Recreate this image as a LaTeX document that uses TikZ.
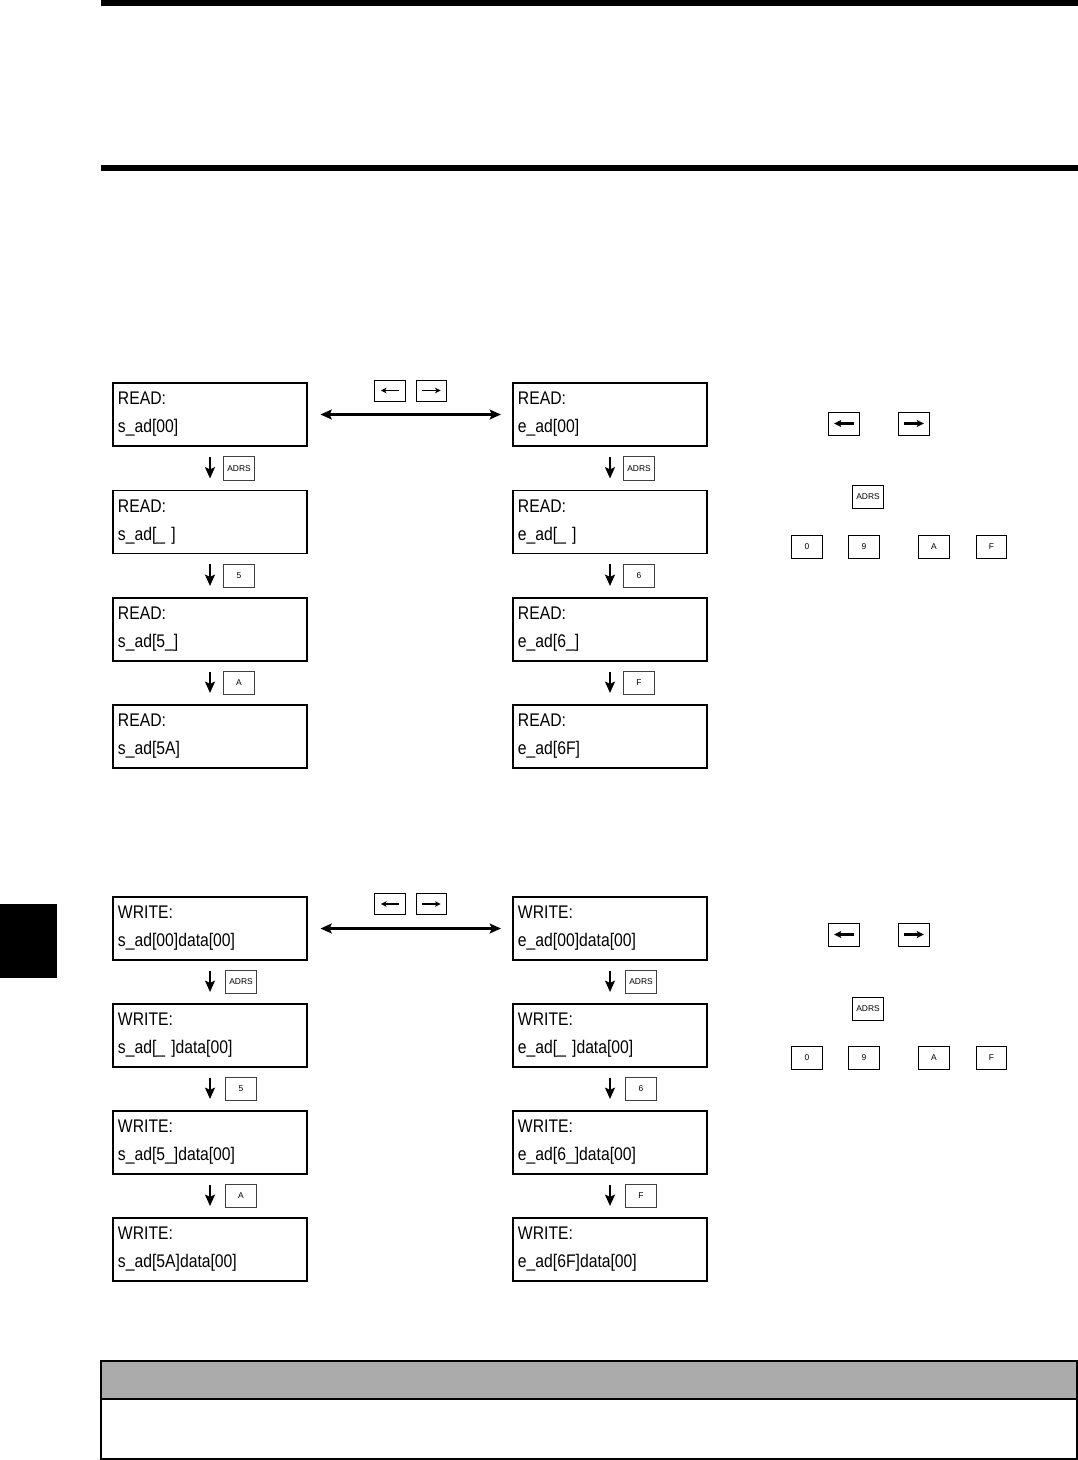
\documentclass[tikz,border=0pt]{standalone}
\usepackage{fontspec}
\setmainfont{Liberation Sans}
\newfontfamily\lcdfont[FakeStretch=0.86]{Liberation Sans}
\usepackage{xcolor}
\usetikzlibrary{positioning,arrows.meta,calc}
\definecolor{headgray}{HTML}{ABABAB}

\begin{document}
\begin{tikzpicture}[
    x=0.025cm, y=-0.025cm,
    lcd/.style={
        draw=black,
        line width=1.1pt,
        minimum width=4.85cm,
        minimum height=1.575cm,
        text width=4.6cm,
        inner xsep=0.125cm,
        inner ysep=0pt,
        align=left,
        font=\lcdfont\fontsize{13}{20}\selectfont
    },
    key/.style={
        draw=black!75,
        line width=0.5pt,
        minimum width=0.76cm,
        minimum height=0.58cm,
        inner sep=0pt,
        font=\fontsize{6}{7}\selectfont
    },
    down/.style={-{Stealth[length=8pt,width=7pt,inset=1.5pt]}, line width=1.5pt},
    swap/.style={{Stealth[length=8pt,width=7pt,inset=1.5pt]}-{Stealth[length=8pt,width=7pt,inset=1.5pt]}, line width=1.5pt},
    keyarr/.style={-{Stealth[length=4pt,width=4pt,inset=1pt]}, line width=1pt},
    bigkeyarr/.style={-{Stealth[length=5pt,width=5pt,inset=1pt]}, line width=1.5pt}
]
\useasboundingbox (0,0) rectangle (1078,1460);

% page rules and tab
\fill (101,0) rectangle (1078,6);
\fill (101,165) rectangle (1078,171);
\fill (0,904) rectangle (57,978);

% ---------------- READ ----------------
\node[lcd] (rs1) at (210,414.5) {READ:\\s\_ad[00]};
\node[lcd] (rs2) at (210,522)   {READ:\\s\_ad[\_ ]};
\node[lcd] (rs3) at (210,629.5) {READ:\\s\_ad[5\_]};
\node[lcd] (rs4) at (210,736.5) {READ:\\s\_ad[5A]};

\node[lcd] (re1) at (610,414.5) {READ:\\e\_ad[00]};
\node[lcd] (re2) at (610,522)   {READ:\\e\_ad[\_ ]};
\node[lcd] (re3) at (610,629.5) {READ:\\e\_ad[6\_]};
\node[lcd] (re4) at (610,736.5) {READ:\\e\_ad[6F]};

\draw[down] ([yshift=-7pt]rs1.south) -- ([yshift=8pt]rs2.north);
\draw[down] ([yshift=-7pt]rs2.south) -- ([yshift=8pt]rs3.north);
\draw[down] ([yshift=-7pt]rs3.south) -- ([yshift=8pt]rs4.north);
\draw[down] ([yshift=-7pt]re1.south) -- ([yshift=8pt]re2.north);
\draw[down] ([yshift=-7pt]re2.south) -- ([yshift=8pt]re3.north);
\draw[down] ([yshift=-7pt]re3.south) -- ([yshift=8pt]re4.north);

\node[key] (krs1) at ($(rs1.south)!0.5!(rs2.north)+(29,0)$) {ADRS};
\node[key] (krs2) at ($(rs2.south)!0.5!(rs3.north)+(29,0)$) {5};
\node[key] (krs3) at ($(rs3.south)!0.5!(rs4.north)+(29,0)$) {A};
\node[key] (kre1) at ($(re1.south)!0.5!(re2.north)+(29,0)$) {ADRS};
\node[key] (kre2) at ($(re2.south)!0.5!(re3.north)+(29,0)$) {6};
\node[key] (kre3) at ($(re3.south)!0.5!(re4.north)+(29,0)$) {F};

\draw[swap] ([xshift=9pt]rs1.east) -- ([xshift=-8pt]re1.west);
\node[key, draw=black, minimum height=0.53cm] (rleft)  at (390,390.5) {};
\node[key, draw=black, minimum height=0.53cm] (rright) at (431.5,390.5) {};
\draw[keyarr] ([xshift=6.5pt]rleft.center) -- ([xshift=-6.5pt]rleft.center);
\draw[keyarr] ([xshift=-6.5pt]rright.center) -- ([xshift=6.5pt]rright.center);

% keys on the right
\node[key, draw=black] (rkl) at (844,423.5) {};
\node[key, draw=black] (rkr) at (914,423.5) {};
\draw[bigkeyarr] ([xshift=7pt]rkl.center) -- ([xshift=-7pt]rkl.center);
\draw[bigkeyarr] ([xshift=-7pt]rkr.center) -- ([xshift=7pt]rkr.center);
\node[key, draw=black] (rka) at (868,496.5) {ADRS};
\node[key, draw=black] (rk0) at (807,547) {0};
\node[key, draw=black] (rk9) at (864,547) {9};
\node[key, draw=black] (rkA) at (934,547) {A};
\node[key, draw=black] (rkF) at (991.5,547) {F};

% ---------------- WRITE ----------------
\node[lcd] (ws1) at (210,928.5)  {WRITE:\\s\_ad[00]data[00]};
\node[lcd] (ws2) at (210,1035.5) {WRITE:\\s\_ad[\_ ]data[00]};
\node[lcd] (ws3) at (210,1142.5) {WRITE:\\s\_ad[5\_]data[00]};
\node[lcd] (ws4) at (210,1249.5) {WRITE:\\s\_ad[5A]data[00]};

\node[lcd] (we1) at (610,928.5)  {WRITE:\\e\_ad[00]data[00]};
\node[lcd] (we2) at (610,1035.5) {WRITE:\\e\_ad[\_ ]data[00]};
\node[lcd] (we3) at (610,1142.5) {WRITE:\\e\_ad[6\_]data[00]};
\node[lcd] (we4) at (610,1249.5) {WRITE:\\e\_ad[6F]data[00]};

\draw[down] ([yshift=-7pt]ws1.south) -- ([yshift=8pt]ws2.north);
\draw[down] ([yshift=-7pt]ws2.south) -- ([yshift=8pt]ws3.north);
\draw[down] ([yshift=-7pt]ws3.south) -- ([yshift=8pt]ws4.north);
\draw[down] ([yshift=-7pt]we1.south) -- ([yshift=8pt]we2.north);
\draw[down] ([yshift=-7pt]we2.south) -- ([yshift=8pt]we3.north);
\draw[down] ([yshift=-7pt]we3.south) -- ([yshift=8pt]we4.north);

\node[key] (kws1) at ($(ws1.south)!0.5!(ws2.north)+(31,0)$) {ADRS};
\node[key] (kws2) at ($(ws2.south)!0.5!(ws3.north)+(31,0)$) {5};
\node[key] (kws3) at ($(ws3.south)!0.5!(ws4.north)+(31,0)$) {A};
\node[key] (kwe1) at ($(we1.south)!0.5!(we2.north)+(31,0)$) {ADRS};
\node[key] (kwe2) at ($(we2.south)!0.5!(we3.north)+(31,0)$) {6};
\node[key] (kwe3) at ($(we3.south)!0.5!(we4.north)+(31,0)$) {F};

\draw[swap] ([xshift=9pt]ws1.east) -- ([xshift=-8pt]we1.west);
\node[key, draw=black, minimum height=0.53cm] (wleft)  at (390,904) {};
\node[key, draw=black, minimum height=0.53cm] (wright) at (431.5,904) {};
\draw[keyarr] ([xshift=6.5pt]wleft.center) -- ([xshift=-6.5pt]wleft.center);
\draw[keyarr] ([xshift=-6.5pt]wright.center) -- ([xshift=6.5pt]wright.center);

% keys on the right
\node[key, draw=black] (wkl) at (844,934.5) {};
\node[key, draw=black] (wkr) at (914,934.5) {};
\draw[bigkeyarr] ([xshift=7pt]wkl.center) -- ([xshift=-7pt]wkl.center);
\draw[bigkeyarr] ([xshift=-7pt]wkr.center) -- ([xshift=7pt]wkr.center);
\node[key, draw=black] (wka) at (868,1008.5) {ADRS};
\node[key, draw=black] (wk0) at (807,1058) {0};
\node[key, draw=black] (wk9) at (864,1058) {9};
\node[key, draw=black] (wkA) at (934,1058) {A};
\node[key, draw=black] (wkF) at (991.5,1058) {F};

% note box at the bottom
\fill[headgray] (101,1361) rectangle (1077,1399);
\draw[line width=0.9pt] (101,1399) -- (1077,1399);
\draw[line width=0.9pt] (101,1361) rectangle (1077,1459);

\end{tikzpicture}
\end{document}
